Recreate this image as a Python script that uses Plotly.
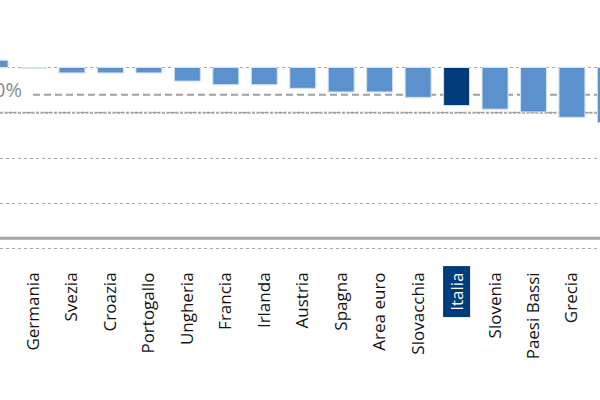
import plotly.graph_objects as go

# ---- data ----
countries = ["Lettonia", "Germania", "Svezia", "Croazia", "Portogallo", "Ungheria",
             "Francia", "Irlanda", "Austria", "Spagna", "Area euro", "Slovacchia",
             "Italia", "Slovenia", "Paesi Bassi", "Grecia", "Cipro"]
values = [0.8, -0.1, -0.6, -0.6, -0.6, -1.5, -1.9, -1.9, -2.3, -2.7, -2.7, -3.3,
          -4.2, -4.6, -4.9, -5.5, -6.1]
highlight = "Italia"
grid_values = [0, -5, -10, -15, -20]
ref_value = -3.0
ref_label = "-3,0%"
ref2_value = -5.0
base_value = -18.85

light = "#5b92cd"
dark = "#003b7b"
colors = [dark if c == highlight else light for c in countries]
ticktext = ["" if c == highlight else c for c in countries]

fig = go.Figure()
fig.add_trace(go.Bar(
    x=countries, y=values,
    marker=dict(color=colors, line=dict(color="#d3e2f3", width=1)),
    showlegend=False, hoverinfo="skip",
))

W = 600
fig.update_layout(
    width=W, height=400,
    margin=dict(l=0, r=0, t=0, b=140),
    paper_bgcolor="white", plot_bgcolor="white",
    bargap=0.325,
    font=dict(family="Open Sans", color="black"),
    xaxis=dict(
        range=[0.129, 15.729], showgrid=False, zeroline=False, showline=False,
        tickmode="array", tickvals=countries, ticktext=ticktext,
        tickangle=-90, tickfont=dict(size=17, color="#111111", family="Open Sans"),
        ticks="", ticklabelstandoff=8,
    ),
    yaxis=dict(
        range=[-21.25, 7.45], tickmode="array", tickvals=grid_values,
        showticklabels=False, showgrid=True, griddash="dot",
        gridcolor="#a8a8a8", gridwidth=1, zeroline=False, showline=False,
    ),
)

# zero line (dotted dark)
fig.add_shape(type="line", xref="paper", x0=0, x1=1, yref="y", y0=0, y1=0,
              line=dict(color="#555555", width=1, dash="dot"), layer="below")
# reference dashed line
fig.add_shape(type="line", xref="paper", x0=33 / W, x1=1, yref="y",
              y0=ref_value, y1=ref_value,
              line=dict(color="#a0a0a0", width=2, dash="7px,4px"), layer="below")
# second reference line
fig.add_shape(type="line", xref="paper", x0=0, x1=1, yref="y",
              y0=ref2_value, y1=ref2_value,
              line=dict(color="#a0a0a0", width=2, dash="3px,1.5px"), layer="below")
# base solid line
fig.add_shape(type="line", xref="paper", x0=0, x1=1, yref="y",
              y0=base_value, y1=base_value,
              line=dict(color="#a3a3a3", width=3), layer="below")

fig.add_annotation(text=ref_label, xref="paper", x=24 / W, xanchor="right",
                   yref="y", y=ref_value, yanchor="middle", yshift=5,
                   showarrow=False, font=dict(size=20, color="#8c8c8c", family="Open Sans"))

# highlighted tick label
fig.add_annotation(text=highlight, x=highlight, xref="x", yref="paper", y=0,
                   yanchor="top", yshift=-6, textangle=-90, showarrow=False,
                   bgcolor=dark, borderpad=1, width=48, height=24,
                   font=dict(size=17, color="white", family="Open Sans"))

fig.write_html("out.html", config={"displayModeBar": False},
               post_script="document.body.style.margin='0';")
